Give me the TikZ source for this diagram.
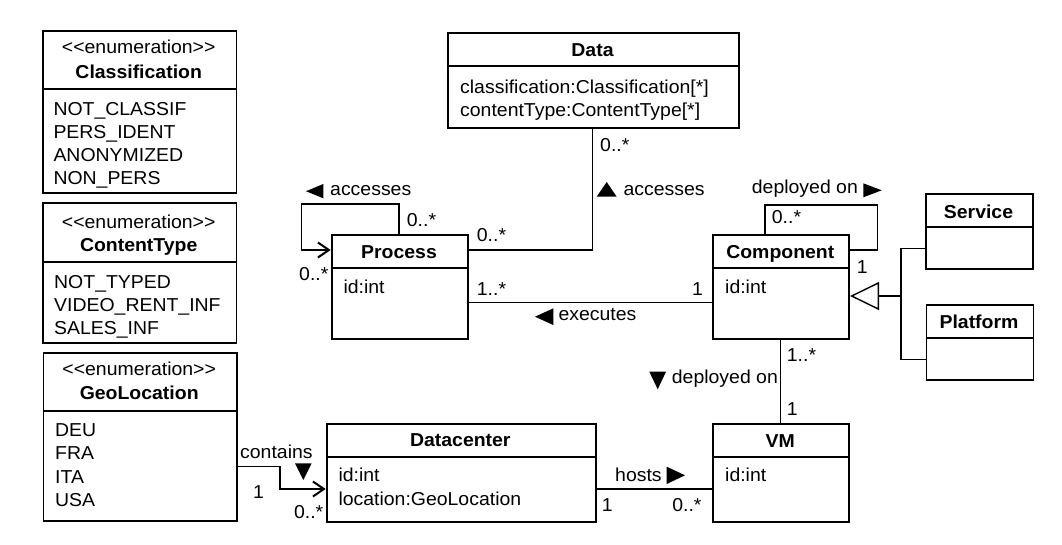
\documentclass[tikz,border=0pt]{standalone}
\usepackage{fontspec}
\setmainfont{Liberation Sans}[FakeStretch=1.04]
\usetikzlibrary{arrows.meta}
\newcommand\dfont{\fontsize{18.7}{23}\selectfont}
\newcommand\enumst{<\kern0pt<enumeration>\kern0pt>}
\begin{document}
\begin{tikzpicture}[x=1pt,y=-1pt,
  box/.style={draw, line width=1.8pt, inner sep=0pt, anchor=north west},
  sepline/.style={line width=1.8pt},
  conn/.style={line width=1.3pt},
  txt/.style={inner sep=0pt, anchor=base west, font=\dfont},
  ctr/.style={inner sep=0pt, anchor=base, font=\dfont},
  ttl/.style={inner sep=0pt, anchor=base, font=\dfont\bfseries},
  barb/.style={-{Straight Barb[length=11pt,width=15pt,line width=2pt]}},
  gen/.style={-{Triangle[open,length=29pt,width=28pt,line width=1.4pt]}},
  tri/.style={fill=black}
]
\useasboundingbox (0,0) rectangle (1062,544);

% ---------- Classification ----------
\node[box, minimum width=193.5pt, minimum height=161.7pt] (cls) at (42,30) {};
\draw[sepline] (cls.west |- 0,89.3) -- (cls.east |- 0,89.3);
\node[ctr] (clsst) at (138.7,53) {\enumst};
\node[ttl] (clsnm) at (138.7,78.3) {Classification};
\node[txt] (cls1) at (53.3,115) {NOT\_CLASSIF};
\node[txt] (cls2) at (53.3,138.2) {PERS\_IDENT};
\node[txt] (cls3) at (53.3,161.4) {ANONYMIZED};
\node[txt] (cls4) at (53.3,184.6) {NON\_PERS};

% ---------- ContentType ----------
\node[box, minimum width=193.5pt, minimum height=140pt] (ct) at (42,201.7) {};
\draw[sepline] (ct.west |- 0,261.7) -- (ct.east |- 0,261.7);
\node[ctr] (ctst) at (138.7,228.5) {\enumst};
\node[ttl] (ctnm) at (138.7,251) {ContentType};
\node[txt] (ct1) at (54,288.3) {NOT\_TYPED};
\node[txt] (ct2) at (54,311.5) {VIDEO\_RENT\_INF};
\node[txt] (ct3) at (54,334.7) {SALES\_INF};

% ---------- GeoLocation ----------
\node[box, minimum width=193.5pt, minimum height=168.3pt] (geo) at (42.5,351.7) {};
\draw[sepline] (geo.west |- 0,411) -- (geo.east |- 0,411);
\node[ctr] (geost) at (139.2,375.7) {\enumst};
\node[ttl] (geonm) at (139.2,399.3) {GeoLocation};
\node[txt] (geo1) at (55,436.7) {DEU};
\node[txt] (geo2) at (55,459.9) {FRA};
\node[txt] (geo3) at (55,483) {ITA};
\node[txt] (geo4) at (55,506) {USA};

% ---------- Data ----------
\node[box, minimum width=291.6pt, minimum height=95pt] (data) at (446.7,31.7) {};
\draw[sepline] (data.west |- 0,65.7) -- (data.east |- 0,65.7);
\node[ttl] (datanm) at (592.5,56.7) {Data};
\node[txt] (data1) at (460,93.3) {classification:Classification[*]};
\node[txt] (data2) at (460,116.5) {contentType:ContentType[*]};

% ---------- Process ----------
\node[box, minimum width=136.6pt, minimum height=104.3pt] (proc) at (330.7,234) {};
\draw[sepline] (proc.west |- 0,268.3) -- (proc.east |- 0,268.3);
\node[ttl] (procnm) at (399,258.3) {Process};
\node[txt] (proc1) at (343.3,293.3) {id:int};

% ---------- Component ----------
\node[box, minimum width=136pt, minimum height=104.3pt] (comp) at (712.3,234) {};
\draw[sepline] (comp.west |- 0,268.3) -- (comp.east |- 0,268.3);
\node[ttl] (compnm) at (780.3,258) {Component};
\node[txt] (comp1) at (725,293.3) {id:int};

% ---------- Service ----------
\node[box, minimum width=107pt, minimum height=75pt] (serv) at (925,193.3) {};
\draw[sepline] (serv.west |- 0,227.3) -- (serv.east |- 0,227.3);
\node[ttl] (servnm) at (978.5,218.3) {Service};

% ---------- Platform ----------
\node[box, minimum width=107pt, minimum height=75.3pt] (plat) at (925.5,304) {};
\draw[sepline] (plat.west |- 0,338.3) -- (plat.east |- 0,338.3);
\node[ttl] (platnm) at (979,328) {Platform};

% ---------- Datacenter ----------
\node[box, minimum width=269.3pt, minimum height=98pt] (dc) at (325.7,422.7) {};
\draw[sepline] (dc.west |- 0,456.7) -- (dc.east |- 0,456.7);
\node[ttl] (dcnm) at (460.3,446.7) {Datacenter};
\node[txt] (dc1) at (338.3,481.7) {id:int};
\node[txt] (dc2) at (338.3,505) {location:GeoLocation};

% ---------- VM ----------
\node[box, minimum width=136pt, minimum height=98pt] (vm) at (712.3,422.7) {};
\draw[sepline] (vm.west |- 0,456.7) -- (vm.east |- 0,456.7);
\node[ttl] (vmnm) at (780.3,447.3) {VM};
\node[txt] (vm1) at (725,481.7) {id:int};

% ---------- Data -- Process (accesses) ----------
\coordinate (dpA) at (592.7,126.7);
\coordinate (dpB) at (592.7,250);
\draw[conn] (data.south -| dpA) -- (dpB) -- (proc.east |- dpB);
\node[txt] (dpm1) at (600,151.7) {0..*};
\fill[tri] (596.7,196.7) -- (616.7,196.7) -- (606.7,182) -- cycle;
\node[txt] (dplbl) at (623.3,195) {accesses};
\node[txt] (dpm2) at (476.7,241.7) {0..*};

% ---------- Process self loop (accesses) ----------
\coordinate (plA) at (399,204);
\coordinate (plB) at (301.7,204);
\coordinate (plC) at (301.7,250);
\draw[conn, barb] (proc.north -| plA) -- (plA) -- (plB) -- (plC) -- (proc.west |- plC);
\fill[tri] (306,191.2) -- (323.3,184) -- (323.3,198.3) -- cycle;
\node[txt] (pllbl) at (330,195) {accesses};
\node[txt] (plm1) at (406.7,226) {0..*};
\node[txt] (plm2) at (299,280) {0..*};

% ---------- Component -- Process (executes) ----------
\coordinate (exA) at (500,302.7);
\draw[conn] (proc.east |- exA) -- (comp.west |- exA);
\node[txt] (exm1) at (476.7,295) {1..*};
\node[txt] (exm2) at (692,295) {1};
\fill[tri] (535,316.7) -- (553.3,308.3) -- (553.3,325) -- cycle;
\node[txt] (exlbl) at (558.3,320) {executes};

% ---------- Component self loop (deployed on) ----------
\coordinate (clA) at (765,205);
\coordinate (clB) at (877.7,205);
\coordinate (clC) at (877.7,250);
\draw[conn] (comp.north -| clA) -- (clA) -- (clB) -- (clC) -- (comp.east |- clC);
\node[txt] (cllbl) at (751.7,193.3) {deployed on};
\fill[tri] (881.7,190.3) -- (863.3,183.3) -- (863.3,197.3) -- cycle;
\node[txt] (clm1) at (771.7,223.3) {0..*};
\node[txt] (clm2) at (856.7,273.3) {1};

% ---------- Generalization ----------
\coordinate (gJ) at (901,296);
\coordinate (gS) at (901,248.3);
\coordinate (gP) at (901,359.3);
\draw[conn] (serv.west |- gS) -- (gS) -- (gP) -- (plat.west |- gP);
\draw[conn, gen] (gJ) -- (comp.east |- gJ);

% ---------- Component -- VM (deployed on) ----------
\coordinate (cvA) at (780.7,380);
\draw[conn] (comp.south -| cvA) -- (vm.north -| cvA);
\node[txt] (cvm1) at (786.7,361.7) {1..*};
\node[txt] (cvm2) at (786.7,415) {1};
\fill[tri] (649.3,371.7) -- (666,371.7) -- (657.7,389.3) -- cycle;
\node[txt] (cvlbl) at (671.7,383.3) {deployed on};

% ---------- Datacenter -- VM (hosts) ----------
\coordinate (hA) at (650,489);
\draw[conn] (dc.east |- hA) -- (vm.west |- hA);
\node[txt] (hlbl) at (615,481) {hosts};
\fill[tri] (685,475.3) -- (666.7,466.7) -- (666.7,484) -- cycle;
\node[txt] (hm1) at (601.7,511.7) {1};
\node[inner sep=0pt, anchor=base east, font=\dfont] (hm2) at (701.7,511.7) {0..*};

% ---------- GeoLocation -- Datacenter (contains) ----------
\coordinate (gcA) at (280,466.7);
\coordinate (gcB) at (280,489);
\draw[conn, barb] (geo.east |- gcA) -- (gcA) -- (gcB) -- (dc.west |- gcB);
\node[txt] (gclbl) at (240,458) {contains};
\fill[tri] (295,463.3) -- (311.7,463.3) -- (303.3,480) -- cycle;
\node[txt] (gcm1) at (253,498) {1};
\node[inner sep=0pt, anchor=base east, font=\dfont] (gcm2) at (323.5,518.3) {0..*};
\end{tikzpicture}
\end{document}
